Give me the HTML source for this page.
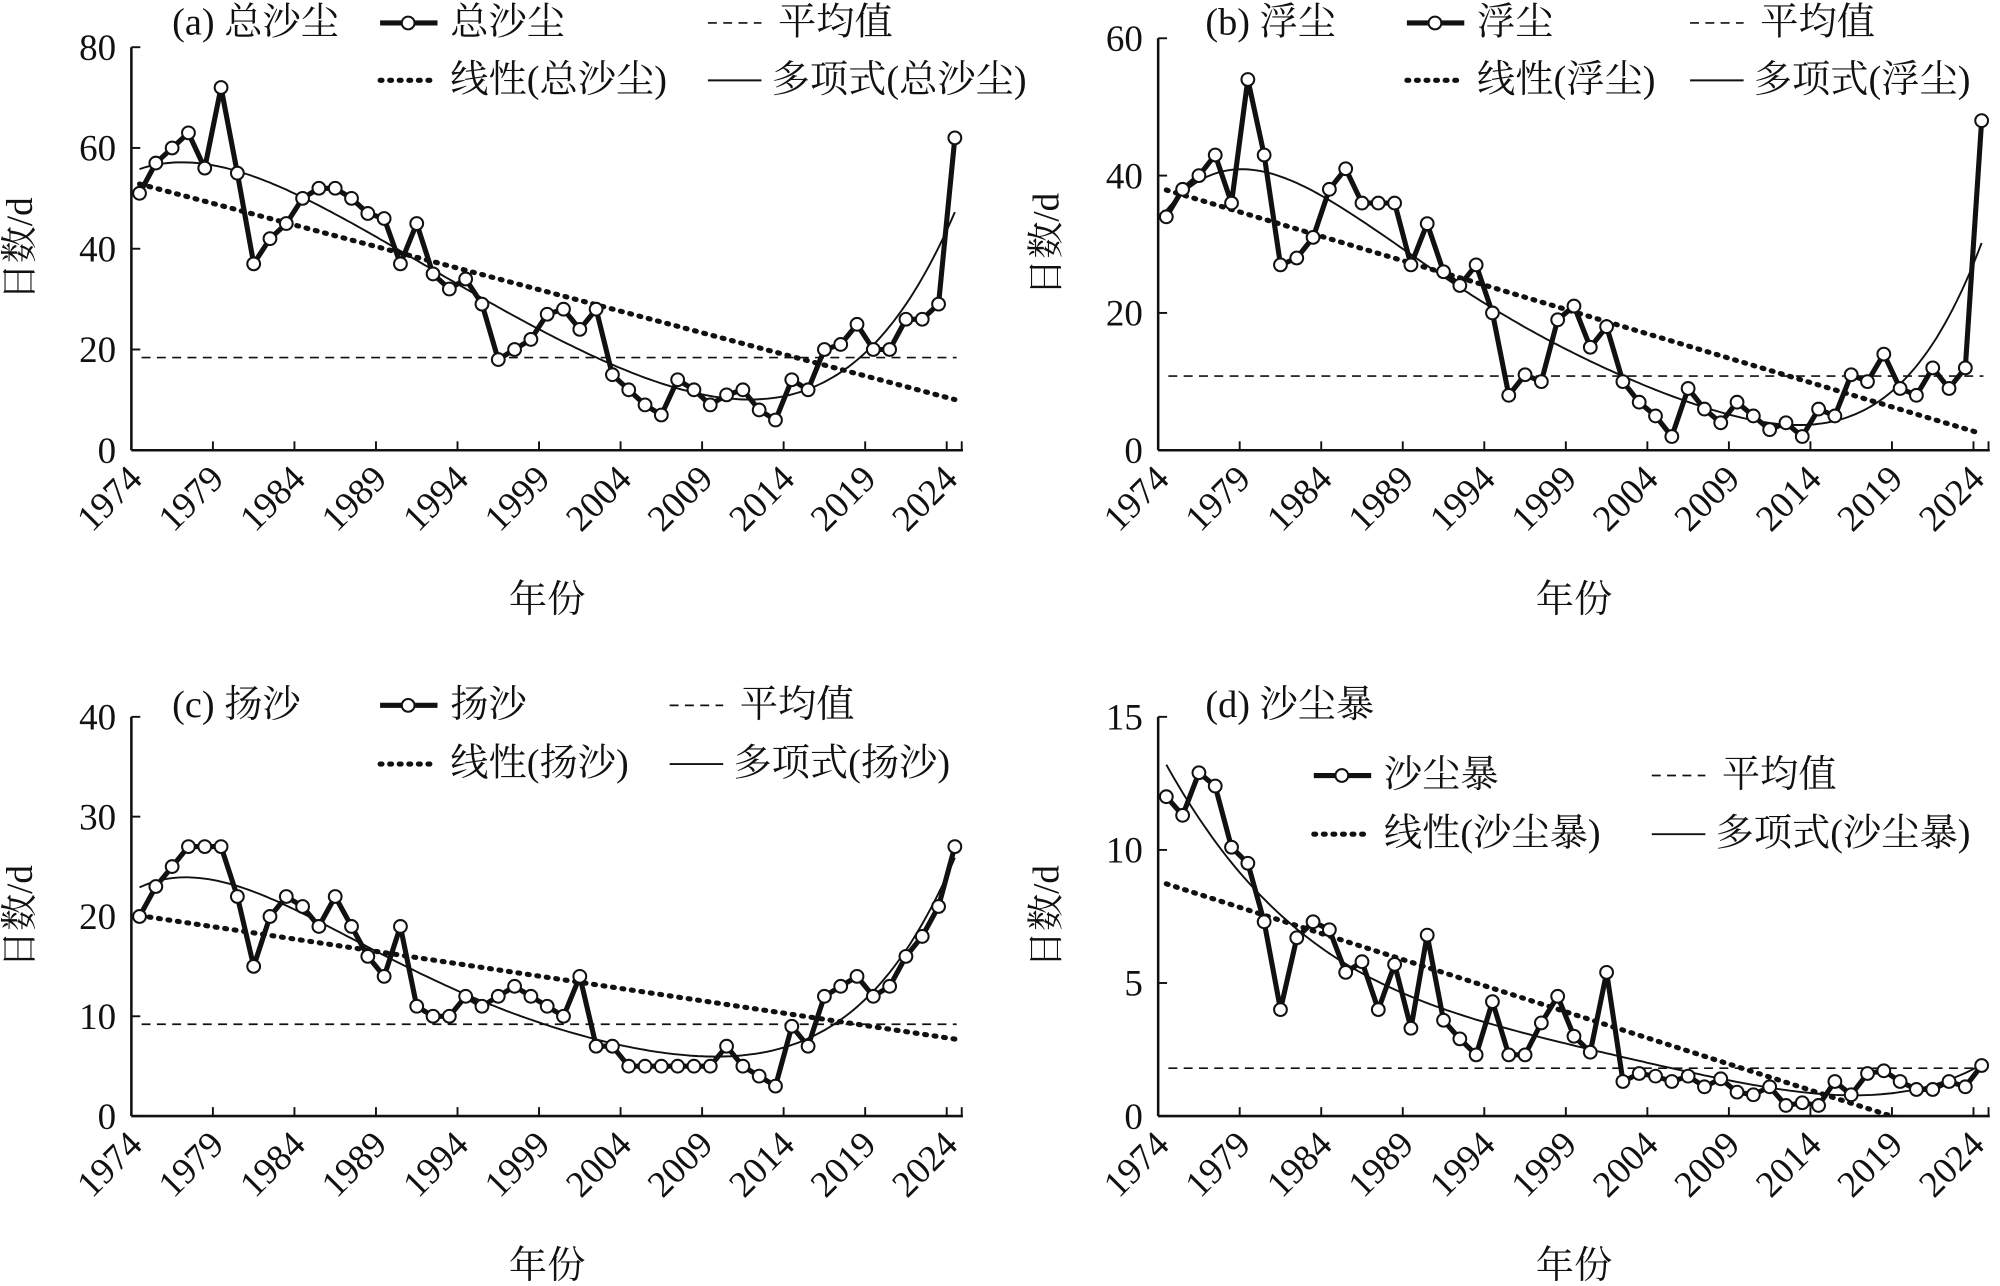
<!DOCTYPE html>
<html><head><meta charset="utf-8"><style>
html,body{margin:0;padding:0;background:#fff}
svg text{font-family:"Liberation Serif","Noto Serif CJK SC","Noto Sans CJK SC",serif;fill:#111}
</style></head><body>
<svg id="s" xmlns="http://www.w3.org/2000/svg" width="2000" height="1281" viewBox="0 0 1568 1004.3"></svg>
<script>
const S=document.getElementById('s');
function el(t,a,txt){const e=document.createElementNS('http://www.w3.org/2000/svg',t);for(const k in a)e.setAttribute(k,a[k]);if(txt!=null)e.textContent=txt;S.appendChild(e);return e;}
function fit(xs,ys,deg){const n=deg+1;const A=[];for(let i=0;i<n;i++){A.push(new Array(n+1).fill(0));}
for(let k=0;k<xs.length;k++){for(let i=0;i<n;i++){for(let j=0;j<n;j++)A[i][j]+=Math.pow(xs[k],i+j);A[i][n]+=ys[k]*Math.pow(xs[k],i);}}
for(let i=0;i<n;i++){let p=i;for(let r=i+1;r<n;r++)if(Math.abs(A[r][i])>Math.abs(A[p][i]))p=r;[A[i],A[p]]=[A[p],A[i]];for(let r=0;r<n;r++){if(r==i)continue;const f=A[r][i]/A[i][i];for(let c=i;c<=n;c++)A[r][c]-=f*A[i][c];}}
return A.map((r,i)=>r[n]/r[i]);}
function ev(c,x){return c.reduce((s,v,i)=>s+v*Math.pow(x,i),0);}
function panel(o){
 const {x0,x1,yT,yB,max,step,data,label,id,mean}=o;
 const cw=(x1-x0)/51, ys=v=>yB-(v/max)*(yB-yT);
 const px=i=>x0+cw*(i+0.5);
 const cpe=el('clipPath',{id:id});
 const cp=document.createElementNS('http://www.w3.org/2000/svg','rect');cpe.appendChild(cp);
 cp.setAttribute('x',x0);cp.setAttribute('y',yT-5);cp.setAttribute('width',x1-x0+5);cp.setAttribute('height',yB-yT+5);
 el('line',{x1:x0,y1:yT,x2:x0,y2:yB,stroke:'#111','stroke-width':2});
 el('line',{x1:x0,y1:yB,x2:x1,y2:yB,stroke:'#111','stroke-width':2});
 for(let v=0;v<=max+1e-9;v+=step){const y=ys(v);el('line',{x1:x0,y1:y,x2:x0+7,y2:y,stroke:'#111','stroke-width':1.5});el('text',{x:x0-12,y:y+10,'text-anchor':'end','font-size':29},String(v));}
 for(let k=0;k<=10;k++){const x=x0+cw*5*k;if(k>0)el('line',{x1:x,y1:yB,x2:x,y2:yB-7,stroke:'#111','stroke-width':1.5});
  el('text',{x:0,y:0,'text-anchor':'end','font-size':29,transform:`translate(${x+10},${yB+24}) rotate(-45)`},String(1974+5*k));}
 el('line',{x1:x1-1,y1:yB,x2:x1-1,y2:yB-7,stroke:'#111','stroke-width':1.5});
 el('text',{x:(x0+x1)/2,y:yB+127,'text-anchor':'middle','font-size':30},'年份');
 el('text',{x:0,y:0,'text-anchor':'middle','font-size':29,transform:`translate(${x0-78},${(yT+yB)/2}) rotate(-90)`},'日数/d');
 const xs=data.map((_,i)=>(i-25)/25);
 el('line',{x1:x0+8,y1:ys(mean),x2:x1-5,y2:ys(mean),stroke:'#111','stroke-width':1.3,'stroke-dasharray':'7,5'});
 const lc=fit(xs,data,1);
 el('line',{x1:px(0),y1:ys(ev(lc,xs[0])),x2:px(50),y2:ys(ev(lc,xs[50])),stroke:'#111','stroke-width':4,'stroke-dasharray':'1.5,6','stroke-linecap':'round','clip-path':`url(#${id})`});
 const pc=fit(xs,data,o.deg||5);let d='';
 for(let t=0;t<=200;t++){const i=t/4;const xx=(i-25)/25;d+=(t?'L':'M')+px(i).toFixed(1)+','+ys(ev(pc,xx)).toFixed(1);}
 el('path',{d,fill:'none',stroke:'#111','stroke-width':1.5,'clip-path':`url(#${id})`});
 el('polyline',{points:data.map((v,i)=>px(i).toFixed(1)+','+ys(v).toFixed(1)).join(' '),fill:'none',stroke:'#111','stroke-width':4,'stroke-linejoin':'round'});
 data.forEach((v,i)=>el('circle',{cx:px(i),cy:ys(v),r:5,fill:'#fff',stroke:'#111','stroke-width':1.6}));
 const L=o.leg;
 el('text',{x:L.tx,y:L.ty,'font-size':30},label[0]);
 el('line',{x1:L.a,y1:L.r1-9,x2:L.a+45,y2:L.r1-9,stroke:'#111','stroke-width':4});
 el('circle',{cx:L.a+22,cy:L.r1-9,r:5,fill:'#fff',stroke:'#111','stroke-width':1.6});
 el('text',{x:L.a+55,y:L.r1,'font-size':30},label[1]);
 el('line',{x1:L.b,y1:L.r1-9,x2:L.b+42,y2:L.r1-9,stroke:'#111','stroke-width':1.3,'stroke-dasharray':'7,5'});
 el('text',{x:L.b+55,y:L.r1,'font-size':30},'平均值');
 el('line',{x1:L.a,y1:L.r2-9,x2:L.a+45,y2:L.r2-9,stroke:'#111','stroke-width':4,'stroke-dasharray':'1.5,6','stroke-linecap':'round'});
 el('text',{x:L.a+55,y:L.r2,'font-size':30},'线性('+label[1]+')');
 el('line',{x1:L.b,y1:L.r2-9,x2:L.b+42,y2:L.r2-9,stroke:'#111','stroke-width':1.5});
 el('text',{x:L.b+50,y:L.r2,'font-size':30},'多项式('+label[1]+')');
}
const A=[51,57,60,63,56,72,55,37,42,45,50,52,52,50,47,46,37,45,35,32,34,29,18,20,22,27,28,24,28,15,12,9,7,14,12,9,11,12,8,6,14,12,20,21,25,20,20,26,26,29,62];
const B=[34,38,40,43,36,54,43,27,28,31,38,41,36,36,36,27,33,26,24,27,20,8,11,10,19,21,15,18,10,7,5,2,9,6,4,7,5,3,4,2,6,5,11,10,14,9,8,12,9,12,48];
const C=[20,23,25,27,27,27,22,15,20,22,21,19,22,19,16,14,19,11,10,10,12,11,12,13,12,11,10,14,7,7,5,5,5,5,5,5,7,5,4,3,9,7,12,13,14,12,13,16,18,21,27];
const D=[12,11.3,12.9,12.4,10.1,9.5,7.3,4,6.7,7.3,7,5.4,5.8,4,5.7,3.3,6.8,3.6,2.9,2.3,4.3,2.3,2.3,3.5,4.5,3,2.4,5.4,1.3,1.6,1.5,1.3,1.5,1.1,1.4,0.9,0.8,1.1,0.4,0.5,0.4,1.3,0.8,1.6,1.7,1.3,1,1,1.3,1.1,1.9];
panel({id:'ca',x0:103,x1:755,yT:37,yB:353,max:80,step:20,data:A,mean:18.4,label:['(a) 总沙尘','总沙尘'],leg:{tx:135,ty:27,a:298,b:555,r1:27,r2:72}});
panel({id:'cb',x0:908,x1:1560,yT:30,yB:353,max:60,step:20,data:B,mean:10.8,label:['(b) 浮尘','浮尘'],leg:{tx:945,ty:27,a:1103,b:1325,r1:27,r2:72}});
panel({id:'cc',x0:103,x1:755,yT:562,yB:875,max:40,step:10,data:C,mean:9.2,label:['(c) 扬沙','扬沙'],leg:{tx:135,ty:562,a:298,b:525,r1:562,r2:608}});
panel({id:'cd',x0:908,x1:1560,yT:562,yB:875,max:15,step:5,data:D,mean:1.8,label:['(d) 沙尘暴','沙尘暴'],leg:{tx:945,ty:562,a:1030,b:1295,r1:617,r2:663},deg:4});
</script>
</body></html>
